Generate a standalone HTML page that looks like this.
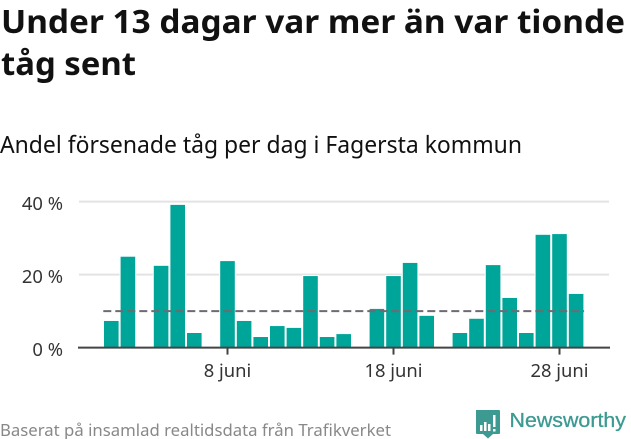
<!DOCTYPE html>
<html lang="sv">
<head>
<meta charset="utf-8">
<title>Under 13 dagar var mer än var tionde tåg sent</title>
<style>
html,body{margin:0;padding:0;background:#fff;width:631px;height:439px;overflow:hidden}
svg{display:block}
text{font-family:"Noto Sans","Open Sans","DejaVu Sans","Liberation Sans",sans-serif}
</style>
</head>
<body>
<svg id="chart" width="631" height="439" viewBox="0 0 631 439" xmlns="http://www.w3.org/2000/svg">
  <text x="1" y="33" font-size="32.5" font-weight="700" fill="#111" textLength="624" lengthAdjust="spacingAndGlyphs">Under 13 dagar var mer än var tionde</text>
  <text x="1" y="75" font-size="32.5" font-weight="700" fill="#111" textLength="135" lengthAdjust="spacingAndGlyphs">tåg sent</text>
  <text x="0" y="153" font-size="23.5" fill="#111" textLength="522" lengthAdjust="spacingAndGlyphs">Andel försenade tåg per dag i Fagersta kommun</text>
  <g id="grid"></g>
  <g id="bars"></g>
  <g id="ref"></g>
  <g id="axes"></g>
  <text x="0" y="436" font-size="16" fill="#888" textLength="391" lengthAdjust="spacingAndGlyphs">Baserat på insamlad realtidsdata från Trafikverket</text>
  <g>
    <path d="M476 410 H499 Q500 410 500 411 V433 Q500 434 499 434 H493 L488 438.5 L483 434 H477 Q476 434 476 433 Z" fill="#3d9a92"/>
    <g fill="#fff">
      <rect x="480" y="425" width="2.5" height="6"/>
      <rect x="484" y="422" width="2.5" height="9"/>
      <rect x="488" y="424" width="2.5" height="7"/>
      <rect x="493" y="415" width="2.5" height="12"/>
      <rect x="493" y="429" width="2.5" height="2.5"/>
    </g>
    <text x="509.5" y="427" font-size="20" stroke="#3d9a92" stroke-width="0.3" fill="#3d9a92" textLength="116.5" lengthAdjust="spacingAndGlyphs" style="font-family:'Liberation Sans',sans-serif">Newsworthy</text>
  </g>
</svg>
<script>
const days = [1,2,4,5,6,8,9,10,11,12,13,14,15,17,18,19,20,22,23,24,25,26,27,28,29];
const shares = [7.3,24.9,22.4,39.1,4.0,23.7,7.3,2.9,5.9,5.4,19.6,2.9,3.7,10.6,19.6,23.2,8.7,4.0,7.9,22.6,13.6,4.0,30.9,31.1,14.7];
const threshold = 10;
const yTicks = [0,20,40];
const xTickDays = [8,18,28];
const xTickLabels = ['8 juni','18 juni','28 juni'];
const firstDay = 1;
const lastDay = 29;

const NS = 'http://www.w3.org/2000/svg';
const xOf = d => 227.5 + (d - 8) * 16.6;
const yOf = v => 347.6 - v * 3.65;
const BAR_W = 14.6;

function mk(parent, tag, attrs, text) {
  const el = document.createElementNS(NS, tag);
  for (const k in attrs) el.setAttribute(k, attrs[k]);
  if (text !== undefined) el.textContent = text;
  parent.appendChild(el);
  return el;
}

const grid = document.getElementById('grid');
const axes = document.getElementById('axes');
yTicks.forEach(t => {
  if (t !== 0) {
    const line = mk(grid, 'line', {x1: 79, x2: 609, y1: yOf(t), y2: yOf(t), stroke: '#e3e3e3', 'stroke-width': 2});
    
    
  }
  const label = mk(axes, 'text', {x: 63, y: yOf(t) + 8.2, 'font-size': 18.4, fill: '#333', 'text-anchor': 'end'}, t + ' %');
  
  
});

const barsG = document.getElementById('bars');
days.forEach((d, i) => {
  const top = yOf(shares[i]);
  const bar = mk(barsG, 'rect', {x: xOf(d) - BAR_W / 2, y: top, width: BAR_W, height: yOf(0) - top, fill: '#00a59a', stroke: '#fff', 'stroke-width': 2, 'paint-order': 'stroke'});
  
  
});

const ref = mk(document.getElementById('ref'), 'line', {x1: xOf(firstDay) - 8, x2: xOf(lastDay) + 8, y1: yOf(threshold), y2: yOf(threshold), stroke: '#6f6a72', 'stroke-width': 2, 'stroke-dasharray': '8 4'});



const axisLine = mk(axes, 'line', {x1: 78, x2: 610, y1: yOf(0), y2: yOf(0), stroke: '#444', 'stroke-width': 2});



xTickDays.forEach((d, i) => {
  const tick = mk(axes, 'line', {x1: xOf(d), x2: xOf(d), y1: yOf(0), y2: yOf(0) + 7, stroke: '#444', 'stroke-width': 2});
  
  
  const label = mk(axes, 'text', {x: xOf(d), y: 377, 'font-size': 18.4, fill: '#333', 'text-anchor': 'middle'}, xTickLabels[i]);
  
  
});
</script>
</body>
</html>
